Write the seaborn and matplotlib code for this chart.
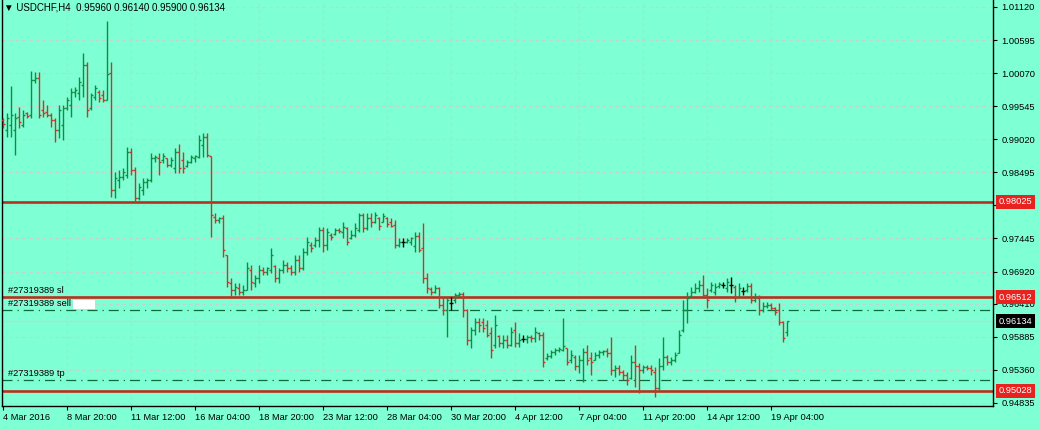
import numpy as np
import pandas as pd
import matplotlib
matplotlib.use("Agg")
import matplotlib.pyplot as plt
from matplotlib.patches import Rectangle
import seaborn as sns

# USDCHF H4 bars (4 Mar 2016 - 19 Apr 2016)
opens = [
    .9933, .9917, .9925, .9917, .9937, .9925, .9944, .9941, .9996, .9999,
    .9948, .9945, .9941, .9932, .9917, .9925, .9952, .9956, .9977, .9975,
    .9988, 1.0020, .9952, .9969, .9977, .9972, .9964, 1.0007, .9821, .9837,
    .9842, .9845, .9882, .9853, .9809, .9821, .9834, .9837, .9872, .9872,
    .9869, .9872, .9861, .9856, .9882, .9869, .9860, .9866, .9872, .9874,
    .9893, .9906, .9875, .9779, .9774, .9777, .9718, .9674, .9663, .9666,
    .9660, .9663, .9694, .9674, .9682, .9694, .9691, .9694, .9701, .9682,
    .9694, .9702, .9698, .9691, .9710, .9698, .9723, .9734, .9734, .9742,
    .9758, .9734, .9750, .9752, .9758, .9755, .9761, .9745, .9750, .9758,
    .9782, .9761, .9777, .9771, .9777, .9771, .9777, .9771, .9766, .9734,
    .9739, .9739, .9739, .9733, .9748, .9729, .9682, .9664, .9660, .9666,
    .9639, .9631, .9642, .9647, .9655, .9656, .9631, .9583, .9599, .9612,
    .9612, .9607, .9594, .9575, .9590, .9579, .9583, .9575, .9599, .9579,
    .9585, .9585, .9588, .9587, .9594, .9591, .9555, .9558, .9564, .9567,
    .9567, .9571, .9552, .9556, .9542, .9552, .9564, .9555, .9552, .9560,
    .9564, .9566, .9563, .9536, .9539, .9533, .9528, .9523, .9548, .9542,
    .9536, .9541, .9539, .9533, .9507, .9542, .9556, .9548, .9552, .9563,
    .9599, .9631, .9653, .9660, .9666, .9671, .9655, .9663, .9660, .9669,
    .9671, .9666, .9671, .9668, .9652, .9661, .9663, .9669, .9647, .9650,
    .9631, .9637, .9639, .9634, .9631, .9612, .9596,
]
highs = [
    .9936, .9944, .9987, .9944, .9953, .9948, .9945, 1.0010, 1.0009, 1.0009,
    .9964, .9956, .9944, .9936, .9956, .9956, .9969, .9983, .9985, 1.0001,
    1.0039, 1.0025, .9975, .9988, .9980, .9980, 1.0090, 1.0025, .9850, .9853,
    .9856, .9890, .9888, .9858, .9833, .9841, .9841, .9880, .9877, .9880,
    .9880, .9872, .9874, .9888, .9895, .9882, .9869, .9877, .9877, .9909,
    .9912, .9912, .9876, .9785, .9779, .9782, .9718, .9682, .9674, .9674,
    .9671, .9707, .9702, .9687, .9702, .9699, .9699, .9729, .9702, .9698,
    .9710, .9707, .9702, .9718, .9718, .9729, .9747, .9739, .9747, .9763,
    .9763, .9761, .9753, .9761, .9761, .9771, .9762, .9758, .9769, .9785,
    .9785, .9785, .9785, .9787, .9779, .9785, .9779, .9777, .9774, .9745,
    .9745, .9745, .9747, .9755, .9755, .9769, .9690, .9668, .9671, .9668,
    .9652, .9652, .9652, .9658, .9660, .9660, .9632, .9604, .9618, .9618,
    .9618, .9615, .9604, .9623, .9591, .9591, .9591, .9604, .9612, .9594,
    .9591, .9591, .9591, .9604, .9596, .9596, .9563, .9567, .9571, .9572,
    .9618, .9571, .9567, .9560, .9560, .9571, .9575, .9564, .9564, .9567,
    .9567, .9571, .9588, .9544, .9544, .9536, .9533, .9560, .9575, .9547,
    .9544, .9544, .9544, .9541, .9555, .9588, .9560, .9556, .9564, .9599,
    .9647, .9660, .9668, .9674, .9679, .9687, .9666, .9675, .9674, .9675,
    .9675, .9682, .9683, .9671, .9674, .9668, .9674, .9674, .9658, .9655,
    .9644, .9644, .9642, .9635, .9642, .9613, .9614,
]
lows = [
    .9920, .9906, .9906, .9877, .9920, .9921, .9936, .9936, .9991, .9936,
    .9937, .9937, .9921, .9898, .9904, .9901, .9948, .9937, .9969, .9964,
    .9969, .9937, .9948, .9964, .9961, .9961, .9964, .9810, .9809, .9825,
    .9837, .9841, .9845, .9802, .9806, .9814, .9825, .9834, .9866, .9845,
    .9864, .9858, .9858, .9848, .9848, .9848, .9858, .9864, .9866, .9872,
    .9874, .9874, .9747, .9769, .9769, .9715, .9668, .9650, .9655, .9655,
    .9655, .9663, .9663, .9668, .9674, .9687, .9687, .9690, .9675, .9674,
    .9690, .9691, .9687, .9687, .9691, .9694, .9718, .9723, .9731, .9731,
    .9723, .9726, .9742, .9750, .9753, .9745, .9734, .9744, .9747, .9755,
    .9755, .9758, .9763, .9769, .9758, .9770, .9763, .9763, .9729, .9731,
    .9731, .9737, .9734, .9723, .9723, .9674, .9658, .9655, .9658, .9634,
    .9623, .9588, .9631, .9642, .9652, .9620, .9575, .9571, .9591, .9596,
    .9596, .9588, .9555, .9571, .9572, .9571, .9571, .9574, .9572, .9572,
    .9580, .9579, .9580, .9580, .9583, .9541, .9552, .9555, .9560, .9564,
    .9566, .9544, .9547, .9536, .9531, .9517, .9544, .9528, .9551, .9555,
    .9560, .9556, .9528, .9525, .9528, .9520, .9512, .9522, .9509, .9499,
    .9531, .9536, .9528, .9493, .9504, .9536, .9544, .9544, .9548, .9562,
    .9596, .9610, .9652, .9658, .9660, .9652, .9634, .9660, .9655, .9666,
    .9666, .9660, .9658, .9644, .9651, .9655, .9660, .9642, .9644, .9623,
    .9628, .9634, .9631, .9623, .9607, .9580, .9590,
]
closes = [
    .9926, .9936, .9941, .9936, .9929, .9941, .9939, .9996, .9999, .9941,
    .9944, .9941, .9932, .9917, .9948, .9952, .9964, .9977, .9980, .9993,
    1.0020, .9948, .9972, .9983, .9967, .9964, 1.0006, .9821, .9841, .9842,
    .9850, .9882, .9853, .9809, .9826, .9834, .9837, .9872, .9874, .9866,
    .9875, .9861, .9869, .9882, .9856, .9856, .9866, .9874, .9875, .9901,
    .9906, .9877, .9782, .9774, .9777, .9726, .9675, .9663, .9668, .9660,
    .9663, .9698, .9675, .9682, .9694, .9691, .9698, .9718, .9682, .9694,
    .9702, .9698, .9691, .9710, .9698, .9723, .9739, .9729, .9742, .9758,
    .9734, .9755, .9747, .9758, .9756, .9763, .9739, .9750, .9761, .9782,
    .9761, .9777, .9771, .9782, .9764, .9780, .9767, .9764, .9734, .9739,
    .9739, .9742, .9745, .9748, .9726, .9682, .9666, .9660, .9666, .9639,
    .9631, .9647, .9642, .9655, .9656, .9631, .9583, .9599, .9612, .9607,
    .9602, .9591, .9567, .9607, .9579, .9583, .9575, .9596, .9579, .9583,
    .9585, .9588, .9587, .9596, .9591, .9548, .9558, .9564, .9567, .9569,
    .9574, .9548, .9560, .9542, .9552, .9564, .9552, .9548, .9560, .9564,
    .9566, .9563, .9536, .9539, .9533, .9528, .9520, .9548, .9542, .9536,
    .9541, .9539, .9536, .9507, .9542, .9556, .9548, .9552, .9560, .9591,
    .9631, .9650, .9660, .9666, .9671, .9655, .9647, .9671, .9668, .9672,
    .9671, .9675, .9671, .9652, .9666, .9661, .9669, .9647, .9652, .9631,
    .9637, .9639, .9634, .9628, .9612, .9587, .96134,
]

date_labels = ["4 Mar 2016", "8 Mar 20:00", "11 Mar 12:00", "16 Mar 04:00",
               "18 Mar 20:00", "23 Mar 12:00", "28 Mar 04:00", "30 Mar 20:00",
               "4 Apr 12:00", "7 Apr 04:00", "11 Apr 20:00", "14 Apr 12:00",
               "19 Apr 04:00"]
date_bars = [0, 16, 32, 48, 64, 80, 96, 112, 128, 144, 160, 176, 192]
price_ticks = [1.01120, 1.00595, 1.00070, 0.99545, 0.99020, 0.98495, 0.97970,
               0.97445, 0.96920, 0.96410, 0.95885, 0.95360, 0.94835]

sl_price = 0.96512
sell_price = 0.9631
tp_price = 0.9520
red_lines = [0.98025, 0.96512, 0.95028]
bid_price = 0.96134
order_id = "#27319389"

BG = "#7fffd4"
UP = "#128c45"
DOWN = "#bf3a2a"
LINE_RED = "#b8301f"
FONT = "Liberation Sans"

df = pd.DataFrame({"open": opens, "high": highs, "low": lows, "close": closes})
df["bar"] = np.arange(len(df))
df["color"] = np.where(df.close > df.open, UP, np.where(df.close < df.open, DOWN, "black"))

sns.set_theme(style="ticks")
plt.rcParams["font.family"] = [FONT, "DejaVu Sans"]

fig = plt.figure(figsize=(10.4, 4.29), dpi=100, facecolor=BG)
ax = fig.add_axes([2 / 1040, 23 / 429, 991 / 1040, 406 / 429])
ax.set_facecolor(BG)

# grid
for b in date_bars[1:]:
    ax.axvline(b, color="#c2d4cc", lw=0.8, ls=(0, (3, 3)), zorder=0)
for p in price_ticks:
    ax.axhline(p, color="#c2d4cc", lw=0.8, ls=(0, (3, 3)), zorder=0)

# order / price lines
ax.axhline(bid_price, color="#c8d2cf", lw=0.9, zorder=1)
for p in [sell_price, tp_price]:
    ax.axhline(p, color="#0b6b3a", lw=0.9, ls=(0, (8, 4, 1, 4)), zorder=1)
for p in red_lines:
    ax.axhline(p, color=LINE_RED, lw=1.9, zorder=2)

# OHLC bars
ax.vlines(df.bar, df.low, df.high, colors=df.color, lw=1.0, zorder=3)
ax.hlines(df.open, df.bar - 0.45, df.bar, colors=df.color, lw=1.0, zorder=3)
ax.hlines(df.close, df.bar, df.bar + 0.45, colors=df.color, lw=1.0, zorder=3)

ax.set_xlim(-0.25, 247.5)
ax.set_ylim(0.94786, 1.0123)

ax.set_xticks(date_bars)
ax.set_xticklabels(date_labels, ha="left", fontsize=6.7)
ax.set_yticks(price_ticks)
ax.set_yticklabels([f"{p:.5f}" for p in price_ticks], fontsize=6.7)
ax.yaxis.tick_right()
ax.tick_params(axis="both", direction="out", length=3, width=0.8, color="black",
               labelcolor="black")
ax.tick_params(axis="x", pad=2)
ax.tick_params(axis="y", pad=3)
for side in ["left", "right", "bottom"]:
    ax.spines[side].set_color("black")
    ax.spines[side].set_linewidth(1.0)
ax.spines["top"].set_visible(False)

# price labels at the right
for p in red_lines:
    ax.annotate(f"{p:.5f}", xy=(1.0, p), xycoords=("axes fraction", "data"),
                xytext=(4, 0), textcoords="offset points", va="center", ha="left",
                fontsize=6.7, color="white", annotation_clip=False, zorder=5,
                bbox=dict(boxstyle="square,pad=0.25", fc="#e8231f", ec="none"))
ax.annotate(f"{bid_price:.5f}", xy=(1.0, bid_price), xycoords=("axes fraction", "data"),
            xytext=(4, 0), textcoords="offset points", va="center", ha="left",
            fontsize=6.7, color="white", annotation_clip=False, zorder=5,
            bbox=dict(boxstyle="square,pad=0.25", fc="black", ec="none"))

# order labels
for txt, p in [(f"{order_id} sl", sl_price), (f"{order_id} sell", sell_price),
               (f"{order_id} tp", tp_price)]:
    ax.annotate(txt, xy=(0.006, p), xycoords=("axes fraction", "data"),
                xytext=(0, 1.5), textcoords="offset points", va="bottom", ha="left",
                fontsize=6.7, color="black")
fig.patches.append(Rectangle((73 / 1040, 1 - 309 / 429), 22 / 1040, 9 / 429,
                             transform=fig.transFigure, fc="white", ec="none"))

fig.text(4 / 1040, 1 - 8 / 429, "\u25bc USDCHF,H4  0.95960 0.96140 0.95900 0.96134",
         fontsize=7, va="center", ha="left", color="black")

fig.savefig("out.png", dpi=100, facecolor=BG)
